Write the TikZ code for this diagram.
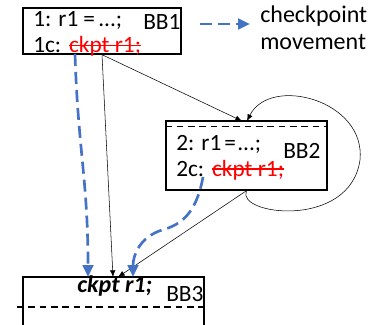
\documentclass[tikz,border=0pt]{standalone}
\usepackage{fontspec}
\setmainfont{Carlito}
\usetikzlibrary{calc, positioning, arrows.meta}
\definecolor{mvblue}{HTML}{4472C4}

\begin{document}
\begin{tikzpicture}[x=0.75pt,y=-0.75pt,font=\fontsize{17.5}{20}\selectfont,
  block/.style={draw,line width=1pt,inner sep=0pt},
  txt/.style={anchor=base west,inner sep=0pt},
  del/.style={anchor=base west,inner sep=0pt,text=red},
  strike/.style={red,line width=1pt},
  flow/.style={line width=0.4pt,-{Latex[length=5pt,width=4pt]}},
  mv/.style={mvblue,line width=2pt,dash pattern=on 9pt off 4.5pt,-{Triangle[length=9pt,width=8pt]}},
  sep/.style={line width=1pt,dash pattern=on 5pt off 3.5pt}]
\useasboundingbox (0,0) rectangle (391,324);
% blocks
\node[block,minimum width=118.5pt,minimum height=34.5pt] (bb1) at (102,31) {};
\node[block,minimum width=120.75pt,minimum height=51.75pt] (bb2) at (246.5,155.5) {};
\coordinate (bb3nw) at (23,277);
\coordinate (bb3ne) at (204,277);
\draw[line width=1pt] (23,330) -- (bb3nw) -- (bb3ne) -- (204,330);
\draw[sep] (bb2.north west) ++(0,6) -- ++(161,0);
\draw[sep] (17,307) -- (204,307);
% texts
\node[txt] (l1) at (33,27) {1: r1};
\node[txt] (l1eq) at (83,27) {=};
\node[txt] (l1dt) at (98,27) {...;};
\node[txt] (l1c) at (33,52.5) {1c:};
\node[del,right=5.5pt of l1c.base east,anchor=base west] (ck1) {ckpt r1;};
\node[txt] (n1) at (143,30) {BB1};
\node[txt] (l2) at (176,150) {2: r1};
\node[txt] (l2eq) at (224,150) {=};
\node[txt] (l2dt) at (237,150) {...;};
\node[txt] (l2c) at (176,176) {2c:};
\node[del,right=5.5pt of l2c.base east,anchor=base west] (ck2) {ckpt r1;};
\node[txt] (n2) at (283,158) {BB2};
\node[txt,font=\fontsize{18}{21}\selectfont\bfseries\itshape] (l3) at (77,292) {ckpt r1;};
\node[txt] (n3) at (166,301) {BB3};
\draw[strike] ($(ck1.base west)+(0,-7)$) -- ($(ck1.base east)+(0,-7)$);
\draw[strike] ($(ck2.base west)+(0,-7)$) -- ($(ck2.base east)+(0,-7)$);
% legend
\coordinate (lga) at (200,24);
\coordinate (lgb) at (250,24);
\draw[mv] (lga) -- (lgb);
\node[txt,font=\fontsize{18}{21}\selectfont] (lg1) at (260,23) {checkpoint};
\node[txt,font=\fontsize{18}{21}\selectfont] (lg2) at (260,50) {movement};
% control flow
\coordinate (in23a) at (113,277);
\coordinate (in23b) at (118,277);
\coordinate (in12) at (242,121);
\coordinate (inloop) at (247,121);
\draw[flow] (bb1.south) -- (in23a);
\draw[flow] (bb1.south) -- (in12);
\draw[flow] (bb2.south) -- (in23b);
\draw[flow] (bb2.south) .. controls (235,215) and (350,230) .. (360,160)
  .. controls (366,100) and (270,75) .. (inloop);
% checkpoint movement
\coordinate (mv1s) at (75,54);
\coordinate (mv1e) at (88,277);
\coordinate (mv2s) at (203,177);
\coordinate (mv2e) at (133,277);
\draw[mv] (mv1s) .. controls (78,150) and (88,180) .. (mv1e);
\draw[mv] (mv2s) .. controls (196,215) and (180,225) .. (162,230)
  .. controls (140,237) and (133,255) .. (mv2e);
\end{tikzpicture}
\end{document}
